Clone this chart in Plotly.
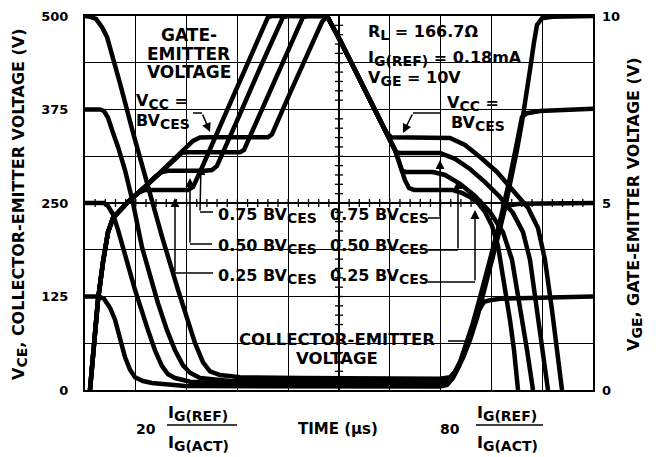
import plotly.graph_objects as go

# ---------------- data (time in µs, VCE in V, VGE in V) ----------------
t_vce_500 = [0, 0.98, 2.17, 3.35, 4.33, 5.51, 6.89, 9.45, 12.2, 13.78, 15.16, 18.31, 21.65, 23.23, 24.61, 26.57, 30.51, 42.32, 58.07, 69.88, 71.85, 73.23, 74.41, 75.79, 77.17, 78.54, 79.92, 81.30, 82.68, 83.86, 85.04, 86.02, 86.81, 87.60, 88.39, 88.98, 89.96, 91.93, 100]
vce_500 = [500, 499, 496, 485, 472, 444, 410, 344, 277, 241, 205, 134, 63, 37, 25, 20, 17, 16, 15, 15, 17, 27, 43, 67, 96, 131, 167, 205, 243, 281, 321, 358, 390, 428, 465, 488, 497, 499, 500]

t_vce_375 = [0, 2.95, 3.74, 4.53, 5.51, 6.50, 7.87, 9.45, 11.22, 12.80, 14.37, 16.14, 17.72, 19.29, 20.67, 22.64, 28.54, 42.32, 69.88, 71.46, 72.83, 74.02, 75.39, 76.77, 78.15, 79.53, 80.91, 82.28, 83.46, 84.65, 85.43, 86.02, 87.01, 89.57, 100]
vce_375 = [375, 375, 373, 364, 344, 325, 294, 250, 191, 154, 116, 80, 53, 33, 23, 16, 12, 11.4, 11.4, 13, 24, 40, 64, 94, 128, 164, 202, 241, 278, 318, 348, 365, 370, 373, 376]

t_vce_250 = [0, 3.74, 4.53, 5.51, 6.50, 8.07, 9.84, 12.40, 13.78, 15.16, 16.34, 17.72, 20.67, 28.54, 69.88, 71.26, 72.44, 73.82, 75.0, 76.38, 77.76, 79.13, 80.51, 81.69, 82.48, 83.46, 85.63, 100]
vce_250 = [250, 250, 246, 235, 214, 176, 134, 80, 53, 32, 21, 16, 11, 8, 7.4, 9.4, 20, 37, 60, 90, 124, 160, 197, 225, 241, 247, 249, 250]

t_vce_125 = [0, 2.76, 3.74, 4.92, 5.91, 6.89, 7.87, 8.86, 9.84, 11.42, 13.19, 19.69, 42.32, 69.88, 71.26, 72.44, 73.62, 75.0, 76.38, 77.56, 78.54, 79.72, 81.69, 100]
vce_125 = [125, 125, 122, 110, 94, 70, 44, 27, 17, 12, 9.4, 5.3, 4.7, 4.7, 6.7, 16, 32, 56, 84, 107, 118, 120, 122, 125]

t_vge_025 = [0.98, 1.77, 2.56, 3.54, 4.53, 5.51, 6.89, 8.46, 10.43, 11.81, 20.28, 21.26, 22.64, 24.61, 28.54, 32.48, 34.84, 36.02, 36.81, 47.64, 50.20, 53.15, 56.10, 58.07, 59.65, 61.02, 62.01, 62.99, 63.78, 64.76, 72.24, 74.21, 75.79, 77.36, 78.74, 80.12, 81.30, 82.48, 83.66, 84.45, 85.24]
vge_025 = [0, 1.20, 2.41, 3.42, 4.22, 4.60, 4.81, 5.03, 5.27, 5.35, 5.35, 5.43, 5.83, 6.44, 7.67, 8.88, 9.63, 9.97, 10, 10, 9.36, 8.56, 7.75, 7.22, 6.82, 6.42, 6.02, 5.61, 5.40, 5.35, 5.35, 5.27, 5.16, 5.00, 4.76, 4.39, 3.85, 2.94, 1.87, 1.07, 0]

t_vge_050 = [0.98, 1.77, 2.56, 3.54, 4.53, 5.51, 6.89, 8.46, 12.20, 13.78, 15.16, 16.34, 23.62, 25.0, 25.98, 26.97, 30.51, 34.45, 37.99, 38.98, 39.96, 47.64, 50.20, 53.15, 56.10, 58.07, 59.65, 61.02, 62.40, 63.19, 68.50, 70.87, 73.82, 76.77, 79.72, 82.28, 84.06, 85.63, 87.01, 88.19]
vge_050 = [0, 1.20, 2.41, 3.42, 4.22, 4.60, 4.81, 5.03, 5.48, 5.70, 5.83, 5.86, 5.86, 5.88, 5.99, 6.28, 7.38, 8.61, 9.71, 9.97, 10, 10, 9.36, 8.56, 7.75, 7.22, 6.82, 6.42, 5.86, 5.83, 5.83, 5.75, 5.51, 5.19, 4.76, 4.22, 3.48, 2.27, 1.07, 0]

t_vge_075 = [0.98, 1.77, 2.56, 3.54, 4.53, 5.51, 6.89, 8.46, 12.20, 15.75, 17.72, 19.09, 20.28, 30.51, 31.30, 36.42, 40.35, 42.91, 43.90, 47.64, 50.20, 53.15, 56.10, 58.07, 59.65, 61.22, 62.01, 69.88, 72.83, 75.79, 78.74, 81.69, 84.25, 86.22, 87.60, 88.98, 90.16, 91.14]
vge_075 = [0, 1.20, 2.41, 3.42, 4.22, 4.60, 4.81, 5.03, 5.48, 5.94, 6.20, 6.34, 6.36, 6.36, 6.42, 7.99, 9.20, 9.97, 10, 10, 9.36, 8.56, 7.75, 7.22, 6.82, 6.36, 6.34, 6.34, 6.18, 5.91, 5.56, 5.16, 4.73, 4.22, 3.48, 2.14, 1.07, 0]

t_vge_100 = [0.98, 1.77, 2.56, 3.54, 4.53, 5.51, 6.89, 8.46, 12.20, 16.73, 19.69, 21.26, 22.64, 24.61, 36.02, 36.81, 40.35, 44.29, 46.65, 47.64, 50.20, 53.15, 56.10, 58.07, 59.25, 60.24, 71.85, 74.80, 77.76, 81.10, 84.25, 87.20, 89.17, 90.55, 91.93, 92.91, 93.90]
vge_100 = [0, 1.20, 2.41, 3.42, 4.22, 4.60, 4.81, 5.03, 5.48, 6.07, 6.44, 6.66, 6.75, 6.76, 6.76, 6.84, 7.94, 9.14, 9.84, 10, 9.36, 8.56, 7.75, 7.22, 6.90, 6.76, 6.74, 6.55, 6.23, 5.83, 5.35, 4.87, 4.33, 3.48, 2.14, 1.07, 0]

vce_ticks = [0, 62.5, 125, 187.5, 250, 312.5, 375, 437.5, 500]
vce_ticktext = ["0", "", "125", "", "250", "", "375", "", "500"]
vge_ticks = [0, 5, 10]
vge_ticktext = ["0", "5", "10"]

# ---------------- layout helpers (pixel -> paper) ----------------
W, H = 656, 457
L, R, T, B = 85, 593, 16, 390
def px(x):
    return (x - L) / (R - L)
def py(y):
    return (B - y) / (B - T)

FONT = "DejaVu Sans"
LW = 4.5

fig = go.Figure()
for tx, vy in [(t_vce_500, vce_500), (t_vce_375, vce_375), (t_vce_250, vce_250), (t_vce_125, vce_125)]:
    fig.add_trace(go.Scatter(x=tx, y=vy, mode="lines", line=dict(color="black", width=LW),
                             hoverinfo="skip", showlegend=False))
for tx, vy in [(t_vge_025, vge_025), (t_vge_050, vge_050), (t_vge_075, vge_075), (t_vge_100, vge_100)]:
    fig.add_trace(go.Scatter(x=tx, y=vy, yaxis="y2", mode="lines", line=dict(color="black", width=LW),
                             hoverinfo="skip", showlegend=False))

shapes = []
# minor ticks on the centre cross-hair
for k in range(1, 40):
    v = k * 12.5
    shapes.append(dict(type="line", xref="x", yref="y", x0=50 - 0.8, x1=50 + 0.8, y0=v, y1=v,
                       line=dict(color="black", width=1.3), layer="between"))
for k in range(1, 50):
    t = k * 2
    shapes.append(dict(type="line", xref="x", yref="y", x0=t, x1=t, y0=250 - 5.3, y1=250 + 5.3,
                       line=dict(color="black", width=1.3), layer="between"))
# white masks behind labels (hide grid only)
for (x0, y0, x1, y1) in [(143, 18, 233, 85), (133, 85, 196, 132), (360, 17, 512, 95),
                         (441, 95, 511, 140), (213, 196, 432, 292), (232, 325, 447, 372)]:
    shapes.append(dict(type="rect", xref="paper", yref="paper", x0=px(x0), x1=px(x1), y0=py(y1), y1=py(y0),
                       fillcolor="white", line=dict(width=0), layer="between"))
# leader lines
def seg(x0, y0, x1, y1, w=1.5):
    shapes.append(dict(type="line", xref="paper", yref="paper", x0=px(x0), y0=py(y0), x1=px(x1), y1=py(y1),
                       line=dict(color="black", width=w), layer="above"))
seg(213, 212, 200, 212)
seg(212, 244, 190, 244)
seg(213, 273, 175, 273)
seg(428, 218, 440, 218)
seg(428, 250, 458, 250)
seg(428, 282, 475, 282)
seg(193, 113, 202, 113)
seg(440, 113, 413, 113)
seg(448, 341, 469, 341)
# fraction bars
seg(167, 425, 237, 425)
seg(476, 425, 543, 425)

ann = []
def text(x, y, s, size=16, anchor="left", angle=0):
    ann.append(dict(x=px(x), y=py(y), xref="paper", yref="paper", text=s, showarrow=False,
                    xanchor=anchor, yanchor="middle", textangle=angle, borderpad=0,
                    font=dict(family=FONT, size=size, color="black", weight="bold")))
def arrow(xt, yt, xs, ys):
    ann.append(dict(x=px(xt), y=py(yt), xref="paper", yref="paper", text="", showarrow=True,
                    ax=xs - xt, ay=ys - yt, arrowhead=2, arrowsize=1.2, arrowwidth=1.5, arrowcolor="black"))

SUB = "<sub><span style='font-size:14px'>%s</span></sub>"
text(188.5, 35, "GATE-", 17, "center")
text(188.5, 54, "EMITTER", 17, "center")
text(188.5, 72, "VOLTAGE", 17, "center")
text(135, 101, "V" + SUB % "CC" + " =", 16)
text(135, 121, "BV" + SUB % "CES", 16)
text(446, 103, "V" + SUB % "CC" + " =", 16)
text(450, 123, "BV" + SUB % "CES", 16)
text(367, 33, "R" + SUB % "L" + " = 166.7Ω", 16)
text(367, 58, "I" + SUB % "G(REF)" + " = 0.18mA", 16)
text(367, 78, "V" + SUB % "GE" + " = 10V", 16)
for yy, lab in [(215, "0.75"), (246, "0.50"), (276, "0.25")]:
    text(217, yy, lab + " BV" + SUB % "CES", 16)
    text(329, yy, lab + " BV" + SUB % "CES", 16)
text(337, 339, "COLLECTOR-EMITTER", 16.5, "center")
text(337, 358, "VOLTAGE", 16.5, "center")
# x axis labels
text(157, 429, "20", 14, "right")
text(167, 413, "I" + SUB % "G(REF)", 16)
text(167, 444, "I" + SUB % "G(ACT)", 16)
text(461, 429, "80", 14, "right")
text(476, 413, "I" + SUB % "G(REF)", 16)
text(476, 444, "I" + SUB % "G(ACT)", 16)
text(338, 429, "TIME (µs)", 15, "center")
# axis titles
text(19, 204, "V" + SUB % "CE" + ", COLLECTOR-EMITTER VOLTAGE (V)", 16, "center", -90)
text(634, 204, "V" + SUB % "GE" + ", GATE-EMITTER VOLTAGE (V)", 16, "center", -90)
# arrows
arrow(201, 166, 200, 212)
arrow(190, 178, 190, 244)
arrow(175, 198, 175, 273)
arrow(440, 160, 440, 218)
arrow(458, 180, 458, 250)
arrow(475, 210, 475, 282)
arrow(210, 132, 202, 113)
arrow(403, 133, 413, 113)

fig.update_layout(
    width=W, height=H,
    margin=dict(l=L, r=W - R, t=T, b=H - B, autoexpand=False),
    paper_bgcolor="white", plot_bgcolor="white",
    font=dict(family=FONT, size=13, color="black", weight="bold"),
    xaxis=dict(range=[0, 100], dtick=10, showgrid=True, gridcolor="black", gridwidth=1.3,
               showticklabels=False, ticks="", zeroline=False, showline=True, linecolor="black",
               linewidth=2, mirror=True, automargin=False),
    yaxis=dict(range=[0, 500], tickvals=vce_ticks, ticktext=vce_ticktext, showgrid=True,
               gridcolor="black", gridwidth=1.3, zeroline=False, showline=True, linecolor="black",
               linewidth=2, mirror=True, ticks="", ticklabelstandoff=12, automargin=False,
               tickfont=dict(family=FONT, size=13, color="black", weight="bold")),
    yaxis2=dict(range=[0, 10], overlaying="y", side="right", tickvals=vge_ticks, ticktext=vge_ticktext,
                showgrid=False, zeroline=False, showline=False, ticks="", ticklabelstandoff=8,
                automargin=False,
                tickfont=dict(family=FONT, size=13, color="black", weight="bold")),
    shapes=shapes, annotations=ann, showlegend=False,
)
fig.write_html("out.html", config={"displayModeBar": False, "staticPlot": True},
               post_script="document.body.style.margin='0';document.body.style.padding='0';")
